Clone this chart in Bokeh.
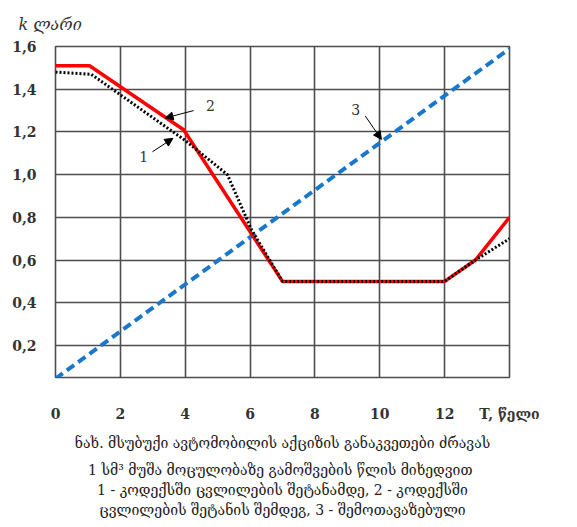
from bokeh.plotting import figure
from bokeh.models import Label, Arrow, NormalHead, FixedTicker, Range1d, Title
from bokeh.embed import file_html
from bokeh.resources import INLINE

# ---- data ----
x_red = [0, 1.05, 3.95, 7.0, 12.0, 12.95, 14.0]
y_red = [1.51, 1.51, 1.21, 0.50, 0.50, 0.60, 0.80]

x_dot = [0, 1.1, 4.0, 5.3, 6.05, 7.0, 12.0, 12.95, 14.0]
y_dot = [1.48, 1.47, 1.16, 1.00, 0.74, 0.50, 0.50, 0.60, 0.70]

x_blue = [0, 14]
y_blue = [0.045, 1.59]

x_ticks = [0, 2, 4, 6, 8, 10, 12, 14]
y_ticks = [0.2, 0.4, 0.6, 0.8, 1.0, 1.2, 1.4, 1.6]
y_tick_labels = ["0,2", "0,4", "0,6", "0,8", "1,0", "1,2", "1,4", "1,6"]

y_title = "k ლარი"
x_title = "T, წელი"
caption = [
    "ნახ. მსუბუქი ავტომობილის აქციზის განაკვეთები ძრავას",
    "1 სმ³  მუშა მოცულობაზე გამოშვების წლის მიხედვით",
    "1 - კოდექსში ცვლილების შეტანამდე, 2 - კოდექსში",
    "ცვლილების შეტანის შემდეგ, 3 - შემოთავაზებული",
]
caption_standoffs = [16, 2, 2, 2]

p = figure(width=569, height=519, output_backend="svg", toolbar_location=None,
           x_range=Range1d(0, 14), y_range=Range1d(0.05, 1.6))
p.min_border_left = 55
p.min_border_top = 44
p.min_border_right = 60
p.min_border_bottom = 142
p.background_fill_color = "white"
p.border_fill_color = "white"
p.outline_line_color = "#4d4d4d"
p.outline_line_width = 1.6

# top-left axis title
p.title.text = y_title
p.title.align = "left"
p.title.offset = -37
p.title.standoff = 25
p.title.text_font = "DejaVu Serif"
p.title.text_font_style = "italic"
p.title.text_font_size = "16px"
p.title.text_color = "#333333"

grid_col = "#4d4d4d"
p.xgrid.ticker = FixedTicker(ticks=x_ticks)
p.ygrid.ticker = FixedTicker(ticks=y_ticks)
for g in (p.xgrid, p.ygrid):
    g.grid_line_color = grid_col
    g.grid_line_width = 1.6
    g.grid_line_alpha = 1.0

tick_font = "DejaVu Serif"
p.xaxis.ticker = FixedTicker(ticks=x_ticks)
p.xaxis.major_label_overrides = {14: x_title}
p.yaxis.ticker = FixedTicker(ticks=y_ticks)
p.yaxis.major_label_overrides = {t: l for t, l in zip(y_ticks, y_tick_labels)}
for ax in (p.xaxis, p.yaxis):
    ax.axis_line_color = None
    ax.major_tick_line_color = None
    ax.minor_tick_line_color = None
    ax.major_label_text_font = tick_font
    ax.major_label_text_font_style = "bold"
    ax.major_label_text_font_size = "14px"
    ax.major_label_text_color = "#333333"
p.xaxis.major_label_standoff = 22
p.yaxis.major_label_standoff = 13

# ---- series ----
p.line(x_blue, y_blue, line_color="#1a78cc", line_width=4, line_dash="9 5")
p.line(x_red, y_red, line_color="#ff0000", line_width=3.5)
p.line(x_dot, y_dot, line_color="black", line_width=3, line_dash="2 2")

# ---- annotations ----
lab_kw = dict(text_font="DejaVu Serif", text_font_size="14px", text_color="#333333",
              text_align="center", text_baseline="middle")
p.add_layout(Label(x=4.78, y=1.326, text="2", **lab_kw))
p.add_layout(Label(x=2.72, y=1.084, text="1", **lab_kw))
p.add_layout(Label(x=9.26, y=1.307, text="3", **lab_kw))

def arrow(x0, y0, x1, y1):
    p.add_layout(Arrow(end=NormalHead(size=8, fill_color="black", line_color="black"),
                       x_start=x0, y_start=y0, x_end=x1, y_end=y1,
                       line_color="black", line_width=1))

arrow(4.26, 1.30, 3.38, 1.265)
arrow(2.99, 1.107, 3.62, 1.17)
arrow(9.55, 1.275, 10.05, 1.165)

# caption under the chart
for line, so in zip(caption, caption_standoffs):
    p.add_layout(Title(text=line, align="center", offset=6, standoff=so,
                       text_font="DejaVu Serif", text_font_style="normal",
                       text_font_size="14px", text_color="#222222"), "below")

open("out.html", "w").write(file_html(p, INLINE))
